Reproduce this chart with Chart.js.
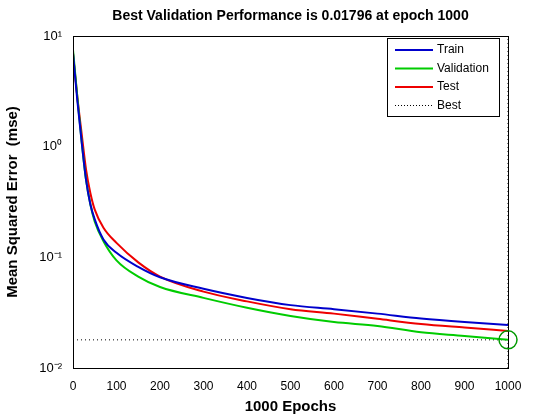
<!DOCTYPE html>
<html>
<head>
<meta charset="utf-8">
<script src="https://cdn.jsdelivr.net/npm/chart.js@4/dist/chart.umd.min.js"></script>
<style>
  body { margin: 0; background: #fff; }
  #wrap { width: 560px; height: 420px; }
</style>
</head>
<body>
<div id="wrap"><canvas id="perfChart"></canvas></div>
<script>
// values
var epochs     = [0, 10, 20, 30, 40, 50, 70, 100, 150, 200, 300, 400, 500, 600, 700, 800, 900, 1000];
var train      = [7.0, 2.6, 1.1, 0.5, 0.3, 0.22, 0.145, 0.11, 0.082, 0.066, 0.052, 0.043, 0.037, 0.034, 0.031, 0.028, 0.026, 0.0245];
var validation = [7.5, 2.8, 1.1, 0.5, 0.3, 0.21, 0.14, 0.094, 0.067, 0.054, 0.043, 0.035, 0.0295, 0.026, 0.024, 0.021, 0.0195, 0.01796];
var test       = [7.0, 2.8, 1.3, 0.62, 0.38, 0.27, 0.185, 0.135, 0.09, 0.067, 0.049, 0.040, 0.034, 0.031, 0.0278, 0.025, 0.0232, 0.0216];
var bestEpoch = 1000;
var bestValue = 0.01796;
var yTicks = [0.01, 0.1, 1, 10];
var yTickLabels = { "0.01": "10\u207B\u00B2", "0.1": "10\u207B\u00B9", "1": "10\u2070", "10": "10\u00B9" };

function pts(ys) {
    return epochs.map(function(e, i) { return { x: e, y: ys[i] }; });
}

var font = "'Liberation Sans', Arial, sans-serif";

var extras = {
    id: "extras",
    afterDraw: function(chart) {
        var ctx = chart.ctx, a = chart.chartArea;
        var xs = chart.scales.x, ys = chart.scales.y;
        ctx.save();
        // frame
        ctx.strokeStyle = "#000";
        ctx.lineWidth = 1;
        ctx.strokeRect(a.left + 0.5, a.top + 0.5, a.right - a.left, a.bottom - a.top);
        // best marker
        ctx.strokeStyle = "#009900";
        ctx.lineWidth = 1.5;
        ctx.beginPath();
        ctx.arc(xs.getPixelForValue(bestEpoch), ys.getPixelForValue(bestValue), 9, 0, Math.PI * 2);
        ctx.stroke();
        // title
        ctx.fillStyle = "#000";
        ctx.font = "bold 14px " + font;
        ctx.textAlign = "center";
        ctx.textBaseline = "middle";
        ctx.fillText("Best Validation Performance is 0.01796 at epoch 1000", (a.left + a.right) / 2, 16);
        // legend
        var lx = 387, ly = 38, lw = 112, lh = 78;
        ctx.fillStyle = "#fff";
        ctx.fillRect(lx, ly, lw, lh);
        ctx.strokeStyle = "#000";
        ctx.lineWidth = 1;
        ctx.strokeRect(lx + 0.5, ly + 0.5, lw, lh);
        var items = [
            ["Train", "#0000cc", []],
            ["Validation", "#00cc00", []],
            ["Test", "#ee0000", []],
            ["Best", "#000000", [1, 2]]
        ];
        ctx.font = "12px " + font;
        ctx.textAlign = "left";
        items.forEach(function(it, i) {
            var y = ly + 12 + i * 18.5;
            ctx.strokeStyle = it[1];
            ctx.lineWidth = it[2].length ? 1 : 2;
            ctx.setLineDash(it[2]);
            ctx.beginPath();
            ctx.moveTo(lx + 8, y);
            ctx.lineTo(lx + 46, y);
            ctx.stroke();
            ctx.setLineDash([]);
            ctx.fillStyle = "#000";
            ctx.fillText(it[0], lx + 50, y);
        });
        ctx.restore();
    }
};

new Chart(document.getElementById("perfChart"), {
    type: "line",
    data: {
        datasets: [
            { label: "Train", data: pts(train), borderColor: "#0000cc", borderWidth: 2, pointRadius: 0, cubicInterpolationMode: "monotone" },
            { label: "Validation", data: pts(validation), borderColor: "#00cc00", borderWidth: 2, pointRadius: 0, cubicInterpolationMode: "monotone" },
            { label: "Test", data: pts(test), borderColor: "#ee0000", borderWidth: 2, pointRadius: 0, cubicInterpolationMode: "monotone" },
            { label: "BestH", data: [{ x: 0, y: bestValue }, { x: 1000, y: bestValue }], borderColor: "#000", borderWidth: 1, borderDash: [1, 3], pointRadius: 0 },
            { label: "BestV", data: [{ x: bestEpoch, y: 0.01 }, { x: bestEpoch, y: 10 }], borderColor: "#000", borderWidth: 1, borderDash: [1, 3], pointRadius: 0 }
        ]
    },
    options: {
        responsive: true,
        maintainAspectRatio: false,
        animation: false,
        layout: { padding: { top: 36, right: 52, left: 4, bottom: 4 } },
        plugins: { legend: { display: false }, title: { display: false }, tooltip: { enabled: false } },
        scales: {
            x: {
                type: "linear", min: 0, max: 1000,
                ticks: { stepSize: 100, color: "#000", font: { family: font, size: 12 }, callback: function(v) { return String(v); } },
                grid: { display: false },
                border: { color: "#000" },
                title: { display: true, text: "1000 Epochs", color: "#000", font: { family: font, size: 15, weight: "bold" }, padding: 0 },
                afterFit: function(s) { s.height = 48; }
            },
            y: {
                type: "logarithmic", min: 0.01, max: 10,
                afterBuildTicks: function(s) { s.ticks = yTicks.map(function(v) { return { value: v }; }); },
                ticks: {
                    color: "#000", font: { family: font, size: 13 },
                    callback: function(v) { return yTickLabels[String(v)] || ""; }
                },
                grid: { display: false },
                border: { color: "#000" },
                title: { display: true, text: "Mean Squared Error  (mse)", color: "#000", font: { family: font, size: 15, weight: "bold" }, padding: 0 },
                afterFit: function(s) { s.width = 69; }
            }
        }
    },
    plugins: [extras]
});
</script>
</body>
</html>
